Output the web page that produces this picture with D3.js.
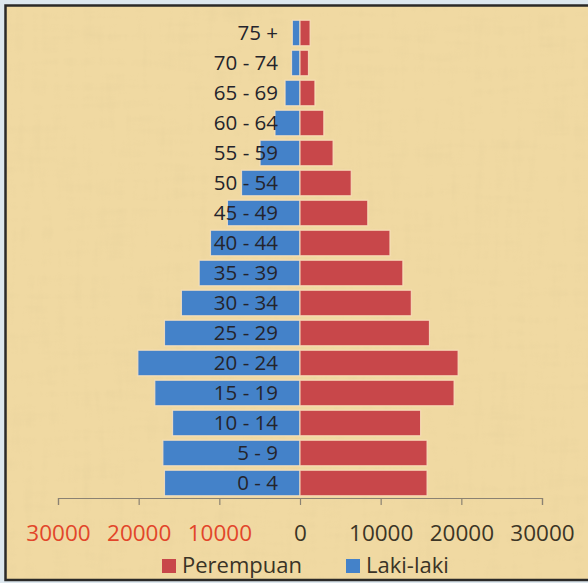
<!DOCTYPE html>
<html>
<head>
<meta charset="utf-8">
<script src="https://cdn.jsdelivr.net/npm/d3@7"></script>
<style>
  html, body { margin: 0; padding: 0; background: #dde7ee; }
  svg { display: block; }
</style>
</head>
<body>
<svg id="chart" width="588" height="583"></svg>
<script>
// Age groups, bottom to top
const ageGroups = ["0 - 4", "5 - 9", "10 - 14", "15 - 19", "20 - 24", "25 - 29", "30 - 34",
  "35 - 39", "40 - 44", "45 - 49", "50 - 54", "55 - 59", "60 - 64", "65 - 69", "70 - 74", "75 +"];
// Population by sex
const lakiLaki  = [16800, 17000, 15800, 18000, 20100, 16800, 14700, 12500, 11100, 9000, 7250, 4950, 3100, 1850, 1050, 950];
const perempuan = [15750, 15750, 14950, 19100, 19600, 16050, 13800, 12750, 11150, 8400, 6350, 4100, 2950, 1850, 1050, 1250];
const tickValues = [-30000, -20000, -10000, 0, 10000, 20000, 30000];
const legendItems = [
  { label: "Perempuan", color: "#c8474a" },
  { label: "Laki-laki", color: "#4482c9" }
];

const svg = d3.select("#chart");
const defs = svg.append("defs");

// Papyrus-like paper texture: crossed fibres
const f = defs.append("filter").attr("id", "paper").attr("x", 0).attr("y", 0).attr("width", 1).attr("height", 1);
f.append("feTurbulence").attr("type", "fractalNoise").attr("baseFrequency", "0.12 0.015")
  .attr("numOctaves", 3).attr("seed", 4).attr("result", "n1");
f.append("feTurbulence").attr("type", "fractalNoise").attr("baseFrequency", "0.015 0.12")
  .attr("numOctaves", 3).attr("seed", 9).attr("result", "n2");
f.append("feComposite").attr("in", "n1").attr("in2", "n2").attr("operator", "arithmetic")
  .attr("k1", 0).attr("k2", 0.5).attr("k3", 0.5).attr("k4", 0).attr("result", "n");
f.append("feColorMatrix").attr("in", "n").attr("type", "matrix")
  .attr("values", "0 0 0 0 0.72  0 0 0 0 0.58  0 0 0 0 0.3  -1.4 0 0 0 0.72");

const clip = defs.append("clipPath").attr("id", "frameClip");
clip.append("rect").attr("x", 5).attr("y", 5).attr("width", 590).attr("height", 575);

const frame = svg.append("g").attr("clip-path", "url(#frameClip)");
frame.append("rect").attr("x", 5).attr("y", 5).attr("width", 590).attr("height", 575).attr("fill", "#f0d9a2");
frame.append("rect").attr("x", 5).attr("y", 5).attr("width", 590).attr("height", 575)
  .attr("fill", "#000").attr("filter", "url(#paper)").attr("opacity", 0.4);

const x = d3.scaleLinear().domain([-30000, 30000]).range([58, 542]);
const y = d3.scaleBand().domain(ageGroups.slice().reverse()).range([18, 498])
  .paddingInner(0.15).paddingOuter(0.075);

const rows = ageGroups.map((g, i) => ({ group: g, male: lakiLaki[i], female: perempuan[i] }));

// Male bars to the left
svg.append("g").selectAll("rect").data(rows).join("rect")
  .attr("x", d => x(-d.male))
  .attr("y", d => y(d.group))
  .attr("width", d => x(0) - x(-d.male))
  .attr("height", y.bandwidth())
  .attr("fill", legendItems[1].color)
  .attr("stroke", "#fbe3c2").attr("stroke-opacity", 0.8).attr("stroke-width", 1.2);

// Female bars to the right
svg.append("g").selectAll("rect").data(rows).join("rect")
  .attr("x", x(0))
  .attr("y", d => y(d.group))
  .attr("width", d => x(d.female) - x(0))
  .attr("height", y.bandwidth())
  .attr("fill", legendItems[0].color)
  .attr("stroke", "#fbe3c2").attr("stroke-opacity", 0.8).attr("stroke-width", 1.2);

// Age labels
svg.append("g").selectAll("text").data(rows).join("text")
  .attr("x", x(0) - 22)
  .attr("y", d => y(d.group) + y.bandwidth() / 2)
  .attr("dy", "0.36em")
  .attr("text-anchor", "end")
  .attr("font-family", "'Open Sans', sans-serif")
  .attr("font-size", 20.5)
  .attr("font-weight", 500)
  .attr("fill", "#24242c")
  .text(d => d.group);

// Horizontal axis
const axis = d3.axisBottom(x).tickValues(tickValues).tickSize(7).tickPadding(20)
  .tickFormat(d => d3.format("d")(Math.abs(d)));
const ax = svg.append("g").attr("transform", "translate(0,498)").call(axis);
ax.select(".domain").attr("stroke", "#8b8272").attr("stroke-width", 1.2);
ax.selectAll(".tick line").attr("stroke", "#8b8272").attr("stroke-width", 1.2);
ax.selectAll(".tick text")
  .attr("font-family", "'Open Sans', sans-serif")
  .attr("font-size", 22.5)
  .attr("font-weight", 500)
  .attr("fill", d => d < 0 ? "#e2462a" : "#3c3526");

// Legend
const legend = svg.append("g").attr("transform", "translate(0,566)");
const legendX = [162, 346];
legendItems.forEach((item, i) => {
  const g = legend.append("g").attr("transform", `translate(${legendX[i]},0)`);
  g.append("rect").attr("x", 0).attr("y", -7).attr("width", 14).attr("height", 14).attr("fill", item.color);
  g.append("text").attr("x", 20).attr("y", 0).attr("dy", "0.33em")
    .attr("font-family", "'Open Sans', sans-serif")
    .attr("font-size", 22)
    .attr("font-weight", 500)
    .attr("fill", "#3a3326")
    .text(item.label);
});

// Chart frame
svg.append("path").attr("d", "M590,5.5 H5.5 V580 H590")
  .attr("fill", "none").attr("stroke", "#2b2a28").attr("stroke-width", 2.5);
</script>
</body>
</html>
